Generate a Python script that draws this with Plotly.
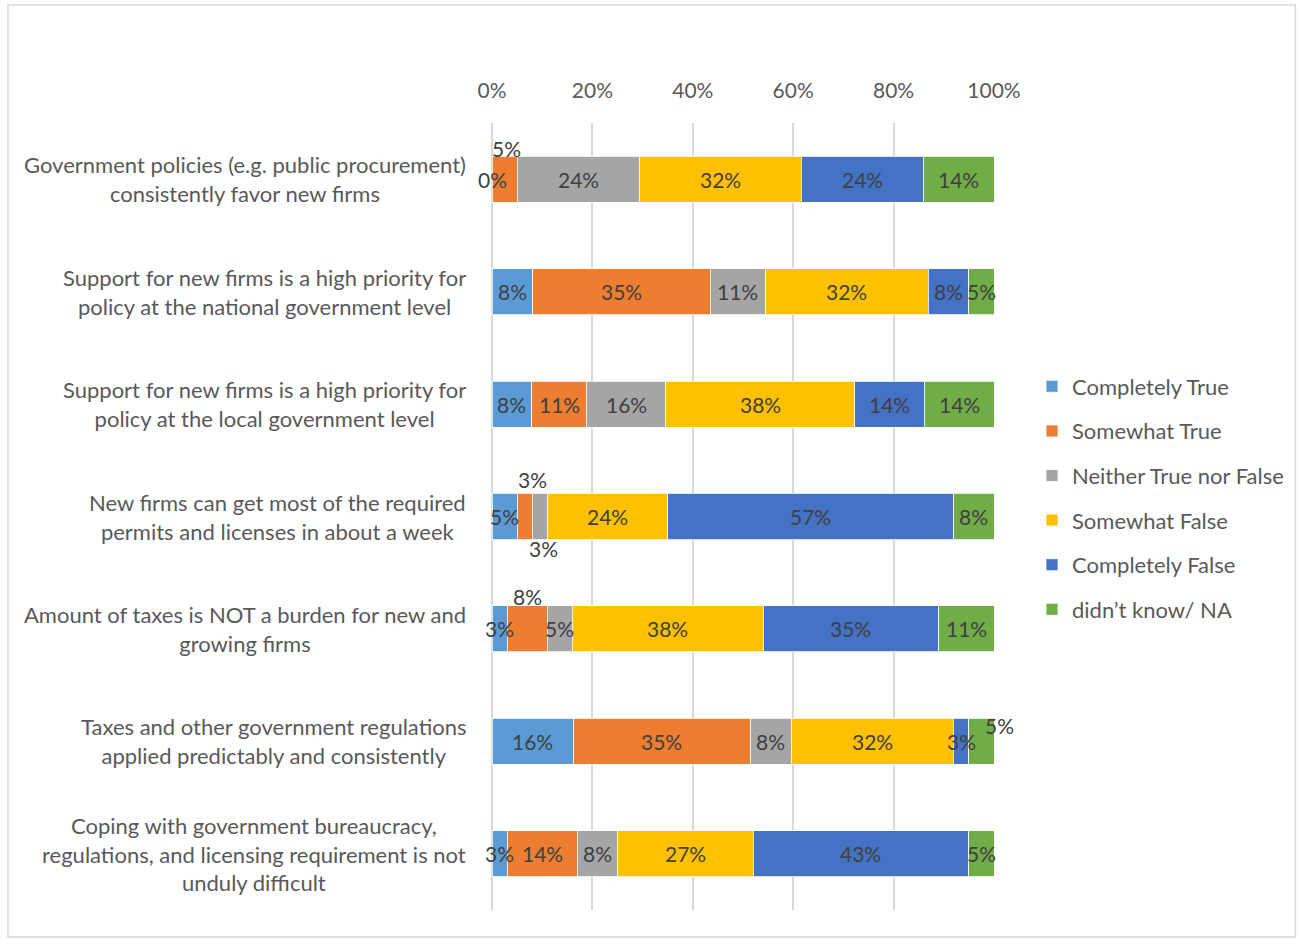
import plotly.graph_objects as go

# Survey statements (top to bottom) and response shares in percent
statements = [
    "Government policies (e.g. public procurement)<br>consistently favor new firms",
    "Support for new firms is a high priority for<br>policy at the national government level",
    "Support for new firms is a high priority for<br>policy at the local government level",
    "New firms can get most of the required<br>permits and licenses in about a week",
    "Amount of taxes is NOT a burden for new and<br>growing firms",
    "Taxes and other government regulations<br>applied predictably and consistently",
    "Coping with government bureaucracy,<br>regulations, and licensing requirement is not<br>unduly difficult",
]

completely_true = [0, 8, 8, 5, 3, 16, 3]
somewhat_true = [5, 35, 11, 3, 8, 35, 14]
neither = [24, 11, 16, 3, 5, 8, 8]
somewhat_false = [32, 32, 38, 24, 38, 32, 27]
completely_false = [24, 8, 14, 57, 35, 3, 43]
didnt_know = [14, 5, 14, 8, 11, 5, 5]

series = [
    ("Completely True", completely_true, "#5B9BD5"),
    ("Somewhat True", somewhat_true, "#ED7D31"),
    ("Neither True nor False", neither, "#A5A5A5"),
    ("Somewhat False", somewhat_false, "#FFC000"),
    ("Completely False", completely_false, "#4472C4"),
    ("didn\u2019t know/ NA", didnt_know, "#70AD47"),
]

# Small segments whose labels sit outside the bar: (series index, row) -> (xshift, yshift)
label_offsets = {
    (1, 0): (2, 31),
    (1, 3): (8, 37),
    (2, 3): (4, -32),
    (1, 4): (0, 32),
    (5, 5): (18, 16),
}

FONT = "Lato"
LABEL_COLOR = "#404040"
AXIS_COLOR = "#595959"

fig = go.Figure()
for i, (name, vals, color) in enumerate(series):
    fig.add_trace(go.Bar(
        y=list(range(len(statements))),
        x=vals,
        name=name,
        orientation="h",
        marker=dict(color=color, line=dict(color="white", width=0.8)),
        legendgroup=name,
        hoverinfo="x+name",
    ))

annotations = []
# Data labels at the middle of each (row-normalized) segment
totals = [sum(s[1][r] for s in series) for r in range(len(statements))]
for r in range(len(statements)):
    cum = 0.0
    for i, (name, vals, color) in enumerate(series):
        v = vals[r]
        mid = (cum + v / 2) * 100.0 / totals[r]
        cum += v
        xs, ys = label_offsets.get((i, r), (0, 0))
        annotations.append(dict(
            x=mid, y=r, xref="x", yref="y",
            text=f"{v}%", showarrow=False,
            xshift=xs, yshift=ys,
            font=dict(family=FONT, size=21, color=LABEL_COLOR),
        ))

# Category labels, centred line by line, to the left of the plot area
for r, txt in enumerate(statements):
    annotations.append(dict(
        x=0, y=r, xref="paper", yref="y",
        xanchor="right", yanchor="middle", align="center",
        xshift=-24, text=txt, showarrow=False,
        font=dict(family=FONT, size=22, color=AXIS_COLOR),
    ))

L, R, T, B = 492, 305, 123, 29
W, H = 1300, 939
pw, ph = W - L - R, H - T - B

fig.update_layout(
    width=W, height=H,
    margin=dict(l=L, r=R, t=T, b=B),
    paper_bgcolor="white", plot_bgcolor="white",
    barmode="stack", barnorm="percent", bargap=0.59,
    font=dict(family=FONT, size=20, color=AXIS_COLOR),
    annotations=annotations,
    showlegend=True,
    legend=dict(
        x=(1032 - L) / pw, y=1 - (498 - T) / ph,
        xanchor="left", yanchor="middle",
        traceorder="grouped", tracegroupgap=13,
        font=dict(family=FONT, size=22, color=AXIS_COLOR),
        itemwidth=30,
    ),
    shapes=[dict(
        type="rect", xref="paper", yref="paper",
        x0=(7 - L) / pw, x1=(1297 - L) / pw,
        y0=1 - (937 - T) / ph, y1=1 + (T - 5) / ph,
        line=dict(color="#D9D9D9", width=1.5), fillcolor="rgba(0,0,0,0)",
        layer="below",
    )],
)

fig.update_xaxes(
    side="top", range=[0, 100],
    tickvals=[0, 20, 40, 60, 80, 100],
    ticktext=["0%", "20%", "40%", "60%", "80%", "100%"],
    showgrid=True, gridcolor="#D9D9D9", gridwidth=1.5,
    zeroline=True, zerolinecolor="#D9D9D9", zerolinewidth=1.5,
    showline=False,
    ticks="outside", ticklen=16, tickcolor="rgba(0,0,0,0)",
    tickfont=dict(family=FONT, size=21, color=AXIS_COLOR),
    fixedrange=True,
)
fig.update_yaxes(
    range=[len(statements) - 0.5, -0.5],
    showticklabels=False, showgrid=False, zeroline=False, showline=False,
    fixedrange=True,
)

fig.write_html("out.html")
